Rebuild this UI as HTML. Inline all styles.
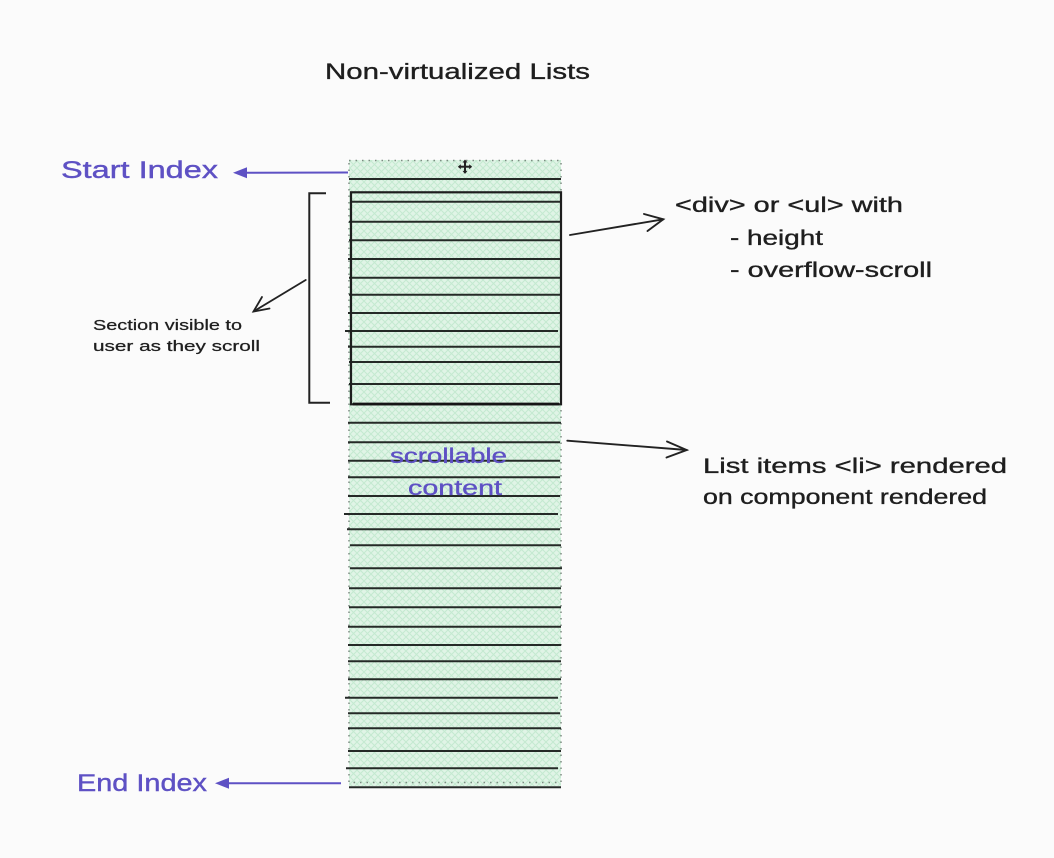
<!DOCTYPE html>
<html>
<head>
<meta charset="utf-8">
<style>
  html, body { margin: 0; padding: 0; background: #fbfbfb; }
  body { width: 1054px; height: 858px; overflow: hidden; }
  svg { display: block; }
  text { font-family: "Liberation Sans", sans-serif; }
</style>
</head>
<body>
<svg width="1054" height="858" viewBox="0 0 1054 858" xmlns="http://www.w3.org/2000/svg">
  <defs>
    <pattern id="hatch" width="7" height="7" patternUnits="userSpaceOnUse">
      <rect width="7" height="7" fill="#e0f4e6"/>
      <path d="M0,0 L7,7 M7,0 L0,7" stroke="#c4ead0" stroke-width="1"/>
    </pattern>
  </defs>

  <rect width="1054" height="858" fill="#fbfbfb"/>

  <!-- Title -->
  <text x="325" y="79" font-size="22" fill="#1e1e1e" stroke="#1e1e1e" stroke-width="0.35" textLength="265" lengthAdjust="spacingAndGlyphs">Non-virtualized Lists</text>

  <!-- Column fill -->
  <rect x="349" y="160" width="212" height="626" fill="url(#hatch)"/>
  <!-- dotted border -->
  <rect x="349" y="160.5" width="212" height="622" fill="none" stroke="#7d8c82" stroke-width="1.5" stroke-dasharray="1.5 5"/>

  <!-- Horizontal lines -->
  <g stroke="#252a27" stroke-width="2" fill="none">
    <line x1="349" y1="179" x2="561" y2="179"/>
    <line x1="351" y1="201.7" x2="561" y2="201.7"/>
    <line x1="349" y1="221.7" x2="561" y2="221.7"/>
    <line x1="349" y1="240.3" x2="561" y2="240.3"/>
    <line x1="348" y1="259" x2="561" y2="259"/>
    <line x1="349" y1="277.7" x2="561" y2="277.7"/>
    <line x1="349" y1="294.7" x2="561" y2="294.7"/>
    <line x1="348" y1="313" x2="561" y2="313"/>
    <line x1="345" y1="331" x2="558" y2="331"/>
    <line x1="348" y1="346.7" x2="561" y2="346.7"/>
    <line x1="349" y1="362" x2="561" y2="362"/>
    <line x1="349" y1="384" x2="561" y2="384"/>

    <line x1="348" y1="422.7" x2="561" y2="422.7"/>
    <line x1="348" y1="442.3" x2="560" y2="442.3"/>
    <line x1="348" y1="460.7" x2="560" y2="460.7"/>
    <line x1="348" y1="477.3" x2="560" y2="477.3"/>
    <line x1="348" y1="496" x2="560" y2="496"/>
    <line x1="344" y1="514" x2="558" y2="514"/>
    <line x1="347" y1="529.3" x2="560" y2="529.3"/>
    <line x1="350" y1="545.3" x2="561" y2="545.3"/>
    <line x1="350" y1="568.3" x2="562" y2="568.3"/>
    <line x1="349" y1="588.3" x2="561" y2="588.3"/>
    <line x1="349" y1="607.3" x2="561" y2="607.3"/>
    <line x1="348" y1="626.7" x2="561" y2="626.7"/>
    <line x1="348" y1="645" x2="561" y2="645"/>
    <line x1="348" y1="661.3" x2="561" y2="661.3"/>
    <line x1="348" y1="679.3" x2="561" y2="679.3"/>
    <line x1="345" y1="697.7" x2="558" y2="697.7"/>
    <line x1="348" y1="713.3" x2="560" y2="713.3"/>
    <line x1="348" y1="728.3" x2="561" y2="728.3"/>
    <line x1="348" y1="751" x2="561" y2="751"/>
    <line x1="346" y1="768.3" x2="558" y2="768.3"/>
    <line x1="349" y1="787.3" x2="561" y2="787.3"/>
  </g>

  <!-- Bold visible rectangle -->
  <rect x="351" y="192.3" width="210" height="212" fill="none" stroke="#1e1e1e" stroke-width="2.2"/>
  <line x1="353" y1="404" x2="559" y2="404" stroke="#151515" stroke-width="2.8"/>

  <!-- move cursor -->
  <g stroke="#222" stroke-width="2" fill="#222">
    <line x1="459" y1="166.7" x2="471" y2="166.7"/>
    <line x1="465" y1="160.7" x2="465" y2="172.7"/>
    <path d="M465,159.5 l-2.5,3 h5 z M465,173.9 l-2.5,-3 h5 z M457.8,166.7 l3,-2.5 v5 z M472.2,166.7 l-3,-2.5 v5 z" stroke="none"/>
  </g>

  <!-- Start Index -->
  <text x="61" y="178" font-size="24" fill="#5e51c4" stroke="#5e51c4" stroke-width="0.4" textLength="157" lengthAdjust="spacingAndGlyphs">Start Index</text>
  <line x1="348" y1="172.5" x2="240" y2="172.8" stroke="#5e51c4" stroke-width="2"/>
  <path d="M233,172.8 L247,167.3 L247,178.3 Z" fill="#5e51c4"/>

  <!-- End Index -->
  <text x="77" y="791" font-size="24" fill="#5e51c4" stroke="#5e51c4" stroke-width="0.4" textLength="130" lengthAdjust="spacingAndGlyphs">End Index</text>
  <line x1="341" y1="783.3" x2="222" y2="783.3" stroke="#5e51c4" stroke-width="2"/>
  <path d="M215,783.3 L229,777.8 L229,788.8 Z" fill="#5e51c4"/>

  <!-- Bracket -->
  <path d="M326,193.3 L309.3,193.3 L309.3,402.7 L330,402.7" fill="none" stroke="#222" stroke-width="2"/>

  <!-- Small arrow to section label -->
  <g stroke="#222" stroke-width="1.8" fill="none" stroke-linecap="round">
    <line x1="305.7" y1="280" x2="253.5" y2="311.5"/>
    <path d="M262,297 L253.5,311.5 L269.5,308.5"/>
  </g>
  <text x="93" y="330" font-size="15" fill="#1e1e1e" stroke="#1e1e1e" stroke-width="0.25" textLength="149" lengthAdjust="spacingAndGlyphs">Section visible to</text>
  <text x="93" y="351" font-size="15" fill="#1e1e1e" stroke="#1e1e1e" stroke-width="0.25" textLength="167" lengthAdjust="spacingAndGlyphs">user as they scroll</text>

  <!-- Right arrow 1 -->
  <g stroke="#222" stroke-width="1.9" fill="none" stroke-linecap="round">
    <line x1="570" y1="235" x2="663.3" y2="219.3"/>
    <path d="M644,214 L663.3,219.3 L647.5,231"/>
  </g>
  <text x="675" y="212" font-size="21" fill="#1e1e1e" stroke="#1e1e1e" stroke-width="0.35" textLength="228" lengthAdjust="spacingAndGlyphs">&lt;div&gt; or &lt;ul&gt; with</text>
  <text x="730" y="245" font-size="21" fill="#1e1e1e" stroke="#1e1e1e" stroke-width="0.35" textLength="93" lengthAdjust="spacingAndGlyphs">- height</text>
  <text x="730" y="277" font-size="21" fill="#1e1e1e" stroke="#1e1e1e" stroke-width="0.35" textLength="202" lengthAdjust="spacingAndGlyphs">- overflow-scroll</text>

  <!-- Right arrow 2 -->
  <g stroke="#222" stroke-width="1.9" fill="none" stroke-linecap="round">
    <line x1="567.3" y1="440.7" x2="686.7" y2="450"/>
    <path d="M667,441.5 L686.7,450 L666.5,457.5"/>
  </g>
  <text x="703" y="473" font-size="21" fill="#1e1e1e" stroke="#1e1e1e" stroke-width="0.35" textLength="304" lengthAdjust="spacingAndGlyphs">List items &lt;li&gt; rendered</text>
  <text x="703" y="504" font-size="21" fill="#1e1e1e" stroke="#1e1e1e" stroke-width="0.35" textLength="284" lengthAdjust="spacingAndGlyphs">on component rendered</text>

  <!-- scrollable content -->
  <text x="390" y="463" font-size="21" fill="#5e51c4" stroke="#5e51c4" stroke-width="0.35" textLength="117" lengthAdjust="spacingAndGlyphs">scrollable</text>
  <text x="408" y="495" font-size="21" fill="#5e51c4" stroke="#5e51c4" stroke-width="0.35" textLength="94" lengthAdjust="spacingAndGlyphs">content</text>
</svg>
</body>
</html>
